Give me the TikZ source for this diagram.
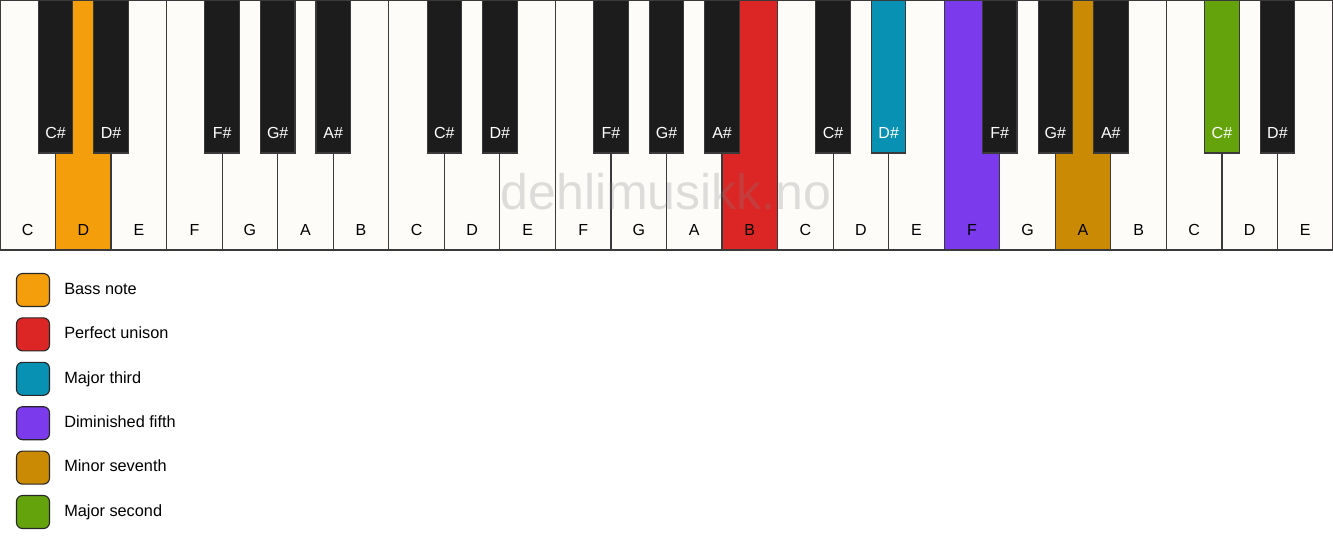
\documentclass[tikz,border=0pt]{standalone}
\usepackage{fontspec}
\setmainfont{Liberation Sans}
\usetikzlibrary{positioning}
\definecolor{keywhite}{HTML}{FDFCF9}
\definecolor{keyblack}{HTML}{1C1C1C}
\definecolor{keyline}{HTML}{3A3A3A}
\definecolor{bass}{HTML}{F59E0B}
\definecolor{unison}{HTML}{DC2626}
\definecolor{third}{HTML}{0891B2}
\definecolor{fifth}{HTML}{7C3AED}
\definecolor{seventh}{HTML}{CA8A04}
\definecolor{second}{HTML}{65A30D}
\tikzset{
  whitekey/.style={draw=keyline,line width=1.2pt},
  blackkey/.style={draw=keyline,line width=1.1pt},
  keyname/.style={font=\fontsize{16}{19}\selectfont,inner sep=0pt},
  swatch/.style={draw=black!85,line width=1.1pt,rounded corners=6pt,minimum width=33pt,minimum height=33pt,inner sep=0pt},
  legendtext/.style={font=\fontsize{16.3}{19}\selectfont,inner sep=0pt,anchor=west,text height=11.7pt,text depth=3.3pt}
}
\begin{document}
\begin{tikzpicture}[x=1pt,y=-1pt]
\useasboundingbox[fill=white](0,0)rectangle(1333,550);
\def\wk{55.5417}
% white keys
\foreach \n/\c [count=\i from 0] in {C/keywhite,D/bass,E/keywhite,F/keywhite,G/keywhite,A/keywhite,B/keywhite,
  C/keywhite,D/keywhite,E/keywhite,F/keywhite,G/keywhite,A/keywhite,B/unison,
  C/keywhite,D/keywhite,E/keywhite,F/fifth,G/keywhite,A/seventh,B/keywhite,
  C/keywhite,D/keywhite,E/keywhite}{
  \draw[whitekey,fill=\c]({\i*\wk},0)rectangle({(\i+1)*\wk},250);
  \node[keyname](w\i)at({(\i+0.5)*\wk},230){\n};
}
% black keys
\foreach \b/\n/\c in {1/C/keyblack,2/D/keyblack,4/F/keyblack,5/G/keyblack,6/A/keyblack,
  8/C/keyblack,9/D/keyblack,11/F/keyblack,12/G/keyblack,13/A/keyblack,
  15/C/keyblack,16/D/third,18/F/keyblack,19/G/keyblack,20/A/keyblack,
  22/C/second,23/D/keyblack}{
  \draw[blackkey,fill=\c]({\b*\wk-17.25},0)rectangle({\b*\wk+17.25},153);
  \node[keyname,text=white](b\b)at({\b*\wk},133){\n\#};
}
\draw[line width=2pt,keyline](0,250)--(1333,250);
\node[font=\fontsize{50}{54}\selectfont,text=black!50,opacity=0.25](mark)at(666,192){dehlimusikk.no};
% legend
\foreach \c/\t [count=\k] in {bass/Bass note,unison/Perfect unison,third/Major third,
  fifth/Diminished fifth,seventh/Minor seventh,second/Major second}{
  \node[swatch,fill=\c](s\k)at(33,{290+(\k-1)*44.4}){};
  \node[legendtext,right=14pt of s\k](t\k){\t};
}
\end{tikzpicture}
\end{document}
